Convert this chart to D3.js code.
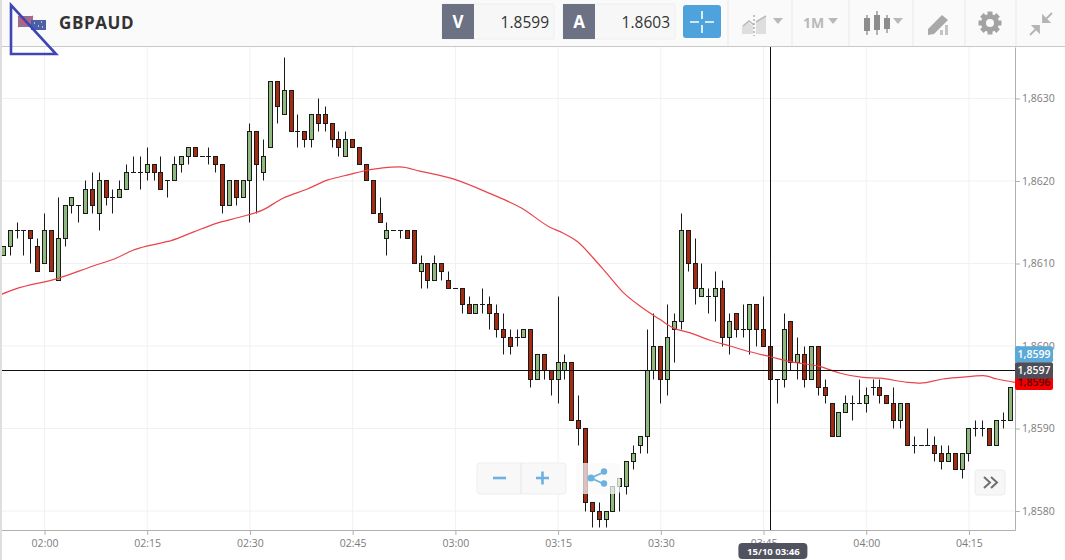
<!DOCTYPE html>
<html>
<head>
<meta charset="utf-8">
<script src="https://cdn.jsdelivr.net/npm/d3@7"></script>
<style>
  html, body { margin: 0; padding: 0; background: #fff; }
  svg { display: block; font-family: "Open Sans", sans-serif; }
</style>
</head>
<body>
<svg id="chart" width="1065" height="560"></svg>
<script>
// one candle a minute, first one at 01:54
var first_minute = 114;
var opens = [1.8611,1.8612,1.8614,1.8614,1.8614,1.8612,1.8610,1.8614,1.8608,1.8613,1.8617,1.8617,1.8616,1.8619,1.8616,1.8620,1.8618,1.8618,1.8619,1.8621,1.8621,1.8621,1.8622,1.8621,1.8620,1.8620,1.8622,1.8623,1.8624,1.8623,1.8623,1.8623,1.8622,1.8617,1.8620,1.8618,1.8620,1.8626,1.8621,1.8624,1.8632,1.8628,1.8631,1.8626,1.8626,1.8625,1.8628,1.8628,1.8627,1.8625,1.8623,1.8625,1.8624,1.8622,1.8620,1.8616,1.8613,1.8614,1.8614,1.8614,1.8614,1.8609,1.8610,1.8608,1.8610,1.8608,1.8607,1.8607,1.8605,1.8604,1.8605,1.8605,1.8604,1.8602,1.8601,1.8601,1.8601,1.8602,1.8596,1.8599,1.8597,1.8596,1.8597,1.8598,1.8591,1.8590,1.8581,1.8580,1.8579,1.8580,1.8583,1.8583,1.8586,1.8588,1.8589,1.8597,1.8600,1.8596,1.8602,1.8603,1.8614,1.8610,1.8606,1.8606,1.8606,1.8607,1.8601,1.8604,1.8602,1.8602,1.8605,1.8602,1.8600,1.8596,1.8596,1.8603,1.8598,1.8599,1.8596,1.8600,1.8595,1.8593,1.8589,1.8592,1.8593,1.8593,1.8593,1.8595,1.8595,1.8594,1.8593,1.8591,1.8593,1.8588,1.8588,1.8588,1.8588,1.8587,1.8586,1.8587,1.8585,1.8587,1.8590,1.8590,1.8590,1.8588,1.8591,1.8591];
var highs = [1.8612,1.8614,1.8615,1.8614,1.8614,1.8613,1.8616,1.8614,1.8618,1.8617,1.8618,1.8617,1.8620,1.8621,1.8621,1.8620,1.8619,1.8620,1.8622,1.8623,1.8623,1.8624,1.8622,1.8623,1.8620,1.8623,1.8623,1.8624,1.8624,1.8623,1.8624,1.8623,1.8622,1.8620,1.8620,1.8620,1.8627,1.8626,1.8625,1.8632,1.8632,1.8635,1.8631,1.8628,1.8626,1.8628,1.8630,1.8629,1.8627,1.8626,1.8626,1.8625,1.8624,1.8622,1.8620,1.8618,1.8615,1.8614,1.8614,1.8614,1.8614,1.8611,1.8610,1.8611,1.8610,1.8609,1.8607,1.8607,1.8606,1.8605,1.8607,1.8606,1.8605,1.8604,1.8602,1.8602,1.8602,1.8602,1.8599,1.8599,1.8597,1.8606,1.8599,1.8598,1.8594,1.8590,1.8581,1.8581,1.8580,1.8583,1.8584,1.8586,1.8588,1.8589,1.8602,1.8604,1.8600,1.8605,1.8604,1.8616,1.8614,1.8613,1.8610,1.8607,1.8609,1.8608,1.8604,1.8604,1.8605,1.8605,1.8605,1.8606,1.8600,1.8596,1.8604,1.8603,1.8601,1.8600,1.8600,1.8600,1.8596,1.8593,1.8592,1.8594,1.8594,1.8596,1.8595,1.8596,1.8596,1.8594,1.8595,1.8593,1.8593,1.8589,1.8588,1.8590,1.8589,1.8588,1.8588,1.8587,1.8587,1.8590,1.8591,1.8591,1.8590,1.8591,1.8592,1.8595];
var lows = [1.8611,1.8611,1.8613,1.8611,1.8610,1.8609,1.8610,1.8609,1.8608,1.8612,1.8616,1.8615,1.8616,1.8616,1.8614,1.8617,1.8616,1.8618,1.8619,1.8621,1.8619,1.8620,1.8620,1.8619,1.8618,1.8620,1.8621,1.8622,1.8623,1.8623,1.8622,1.8621,1.8616,1.8617,1.8617,1.8618,1.8615,1.8616,1.8620,1.8624,1.8627,1.8628,1.8626,1.8624,1.8624,1.8624,1.8626,1.8626,1.8624,1.8623,1.8623,1.8624,1.8622,1.8620,1.8616,1.8615,1.8611,1.8614,1.8613,1.8613,1.8610,1.8607,1.8607,1.8608,1.8608,1.8607,1.8607,1.8604,1.8604,1.8604,1.8604,1.8602,1.8601,1.8599,1.8599,1.8600,1.8601,1.8595,1.8596,1.8596,1.8594,1.8593,1.8596,1.8591,1.8588,1.8580,1.8578,1.8578,1.8578,1.8580,1.8580,1.8582,1.8585,1.8587,1.8587,1.8596,1.8593,1.8594,1.8598,1.8602,1.8609,1.8605,1.8606,1.8604,1.8603,1.8600,1.8599,1.8601,1.8601,1.8599,1.8600,1.8600,1.8596,1.8593,1.8595,1.8597,1.8596,1.8595,1.8596,1.8594,1.8593,1.8589,1.8589,1.8592,1.8591,1.8593,1.8592,1.8594,1.8593,1.8593,1.8590,1.8590,1.8588,1.8587,1.8588,1.8588,1.8586,1.8585,1.8586,1.8585,1.8584,1.8586,1.8589,1.8589,1.8588,1.8588,1.8590,1.8591];
var closes = [1.8612,1.8614,1.8614,1.8614,1.8613,1.8609,1.8614,1.8609,1.8613,1.8617,1.8618,1.8617,1.8619,1.8617,1.8620,1.8618,1.8618,1.8619,1.8621,1.8621,1.8621,1.8622,1.8621,1.8619,1.8620,1.8622,1.8623,1.8624,1.8623,1.8623,1.8623,1.8622,1.8617,1.8620,1.8618,1.8620,1.8626,1.8622,1.8623,1.8632,1.8629,1.8631,1.8626,1.8626,1.8625,1.8628,1.8627,1.8627,1.8625,1.8624,1.8625,1.8624,1.8622,1.8620,1.8616,1.8615,1.8614,1.8614,1.8614,1.8613,1.8610,1.8610,1.8608,1.8610,1.8609,1.8607,1.8607,1.8605,1.8604,1.8605,1.8605,1.8604,1.8602,1.8601,1.8600,1.8601,1.8602,1.8596,1.8599,1.8597,1.8596,1.8598,1.8598,1.8591,1.8590,1.8581,1.8580,1.8579,1.8580,1.8583,1.8584,1.8586,1.8587,1.8589,1.8597,1.8600,1.8596,1.8601,1.8603,1.8614,1.8610,1.8607,1.8607,1.8606,1.8607,1.8601,1.8603,1.8602,1.8602,1.8605,1.8602,1.8600,1.8596,1.8596,1.8602,1.8598,1.8599,1.8596,1.8600,1.8595,1.8594,1.8589,1.8592,1.8593,1.8593,1.8593,1.8594,1.8595,1.8594,1.8593,1.8591,1.8593,1.8588,1.8588,1.8588,1.8588,1.8587,1.8586,1.8587,1.8585,1.8587,1.8590,1.8590,1.8590,1.8588,1.8591,1.8591,1.8595];

// moving average, read at irregular spots along the red line
var ma_minutes = [113.5,115.7,122,127.1,130.6,132.9,135.4,138.6,141.7,145.2,148.5,151.9,154.8,158.3,161.3,164.6,167.1,169.4,171.9,174.8,179.9,185,189.7,193.8,195.7,197.9,200.1,202.1,204.5,207.2,209.9,211.8,214.3,217.2,220.1,223,226,228.9,233.3,236.2,239.5,242,246,247.9,251.2,253.7,257.1,259.1,261.7];
var ma_values = [1.86062,1.86069,1.86082,1.86097,1.86107,1.86116,1.86122,1.86128,1.86138,1.86149,1.86156,1.86165,1.86179,1.8619,1.86201,1.86208,1.86213,1.86216,1.86217,1.86212,1.86202,1.86185,1.86167,1.86144,1.86137,1.86126,1.86107,1.86088,1.86065,1.86047,1.86032,1.86022,1.86016,1.86007,1.86,1.85993,1.85987,1.85981,1.85975,1.85967,1.85962,1.85961,1.85956,1.85955,1.8596,1.85962,1.85964,1.8596,1.85956];

var time_ticks = [120,135,150,165,180,195,210,225,240,255];
var price_ticks = [1.858,1.859,1.860,1.861,1.862,1.863];

var bid = 1.8599, ask = 1.8603, last_close = 1.8596;
var cursor_price = 1.8597, cursor_minute = 226, cursor_label = '15/10 03:46';

var plot_right = 1015, plot_top = 47, plot_bottom = 530;
var green = '#8fb97e', red = '#a32b12', ink = '#1a1a1a', grid = '#f1f1f1', axis_col = '#b0b0b0', label_col = '#7c7c7c';

var svg = d3.select('#chart');

var x = d3.scaleLinear().domain([113.5, 261.72]).range([0, plot_right]);
var y = d3.scaleLinear().domain([1.85777, 1.863624]).range([plot_bottom, plot_top]);

// the reference snaps candles to whole pixels
function px(v) { return Math.floor(v) + 0.5; }

function fmt_price(v) { return d3.format('.4f')(v).replace('.', ','); }
function fmt_time(m) { return d3.format('02d')(Math.floor(m / 60)) + ':' + d3.format('02d')(m % 60); }

// grid
svg.append('g').selectAll('line').data(time_ticks).enter().append('line')
  .attr('x1', function(d) {return x(d);}).attr('x2', function(d) {return x(d);})
  .attr('y1', plot_top).attr('y2', plot_bottom)
  .attr('stroke', grid);
svg.append('g').selectAll('line').data(price_ticks).enter().append('line')
  .attr('x1', 0).attr('x2', plot_right)
  .attr('y1', function(d) {return y(d);}).attr('y2', function(d) {return y(d);})
  .attr('stroke', grid);

// axes
var x_axis = d3.axisBottom(x).tickValues(time_ticks).tickFormat(fmt_time).tickSize(5).tickPadding(5).tickSizeOuter(0);
var y_axis = d3.axisRight(y).tickValues(price_ticks).tickFormat(fmt_price).tickSize(5).tickPadding(2).tickSizeOuter(0);

var gx = svg.append('g').attr('transform', 'translate(0,' + plot_bottom + ')').call(x_axis);
var gy = svg.append('g').attr('transform', 'translate(' + plot_right + ',0)').call(y_axis);
[gx, gy].forEach(function(g) {
  g.selectAll('path').attr('stroke', axis_col);
  g.selectAll('line').attr('stroke', axis_col);
  g.selectAll('text').attr('fill', label_col)
    .style('font-family', '"Open Sans", sans-serif').style('font-size', '10.5px');
});

// candles
var candles = d3.range(opens.length);
var cg = svg.append('g');

cg.selectAll('line.wick').data(candles).enter().append('line')
  .attr('class', 'wick')
  .attr('x1', function(i) {return px(x(first_minute + i));})
  .attr('x2', function(i) {return px(x(first_minute + i));})
  .attr('y1', function(i) {return px(y(highs[i]));})
  .attr('y2', function(i) {return px(y(lows[i]));})
  .attr('stroke', ink).attr('stroke-width', 1);

var dojis = candles.filter(function(i) {return opens[i] === closes[i];});
cg.selectAll('line.doji').data(dojis).enter().append('line')
  .attr('class', 'doji')
  .attr('x1', function(i) {return px(x(first_minute + i)) - 2.5;})
  .attr('x2', function(i) {return px(x(first_minute + i)) + 2.5;})
  .attr('y1', function(i) {return px(y(opens[i]));})
  .attr('y2', function(i) {return px(y(opens[i]));})
  .attr('stroke', ink).attr('stroke-width', 1);

var bodies = candles.filter(function(i) {return opens[i] !== closes[i];});
cg.selectAll('rect').data(bodies).enter().append('rect')
  .attr('x', function(i) {return px(x(first_minute + i)) - 2;})
  .attr('width', 4)
  .attr('y', function(i) {return px(y(Math.max(opens[i], closes[i])));})
  .attr('height', function(i) {return px(y(Math.min(opens[i], closes[i]))) - px(y(Math.max(opens[i], closes[i])));})
  .attr('fill', function(i) {return closes[i] > opens[i] ? green : red;})
  .attr('stroke', ink).attr('stroke-width', 1);

// moving average
var ma_line = d3.line()
  .x(function(d, i) {return x(ma_minutes[i]);})
  .y(function(d) {return y(d);})
  .curve(d3.curveMonotoneX);
svg.append('path').attr('d', ma_line(ma_values))
  .attr('fill', 'none').attr('stroke', '#e9444a').attr('stroke-width', 1.2);

// crosshair
svg.append('line').attr('x1', 0).attr('x2', plot_right)
  .attr('y1', px(y(cursor_price))).attr('y2', px(y(cursor_price)))
  .attr('stroke', '#111').attr('stroke-width', 1);
svg.append('line').attr('x1', px(x(cursor_minute))).attr('x2', px(x(cursor_minute)))
  .attr('y1', plot_top).attr('y2', plot_bottom)
  .attr('stroke', '#111').attr('stroke-width', 1);

// price flags on the right axis
function price_flag(py, h, fill, txt, col) {
  svg.append('rect').attr('x', plot_right).attr('y', py).attr('width', 38).attr('height', h)
    .attr('rx', 2).attr('fill', fill);
  svg.append('text').attr('x', plot_right + 19).attr('y', py + h / 2 + 3.6)
    .attr('text-anchor', 'middle').attr('fill', col)
    .style('font-size', '10.5px').style('font-weight', 600).text(txt);
}
price_flag(y(last_close) - 4, 15, '#f40000', fmt_price(last_close), '#5a0000');
price_flag(y(bid) - 8, 16, '#5aa9d8', fmt_price(bid), '#fff');
price_flag(y(cursor_price) - 8.5, 16.5, '#4e4e58', fmt_price(cursor_price), '#fff');

// time flag
svg.append('rect').attr('x', x(cursor_minute) - 32).attr('y', 543).attr('width', 69).attr('height', 16)
  .attr('rx', 4).attr('fill', '#50535f');
svg.append('text').attr('x', x(cursor_minute) + 3).attr('y', 554.5)
  .attr('text-anchor', 'middle').attr('fill', '#fff')
  .style('font-size', '9.5px').style('font-weight', 700).text(cursor_label);

// zoom + share buttons over the chart
var ov = svg.append('g');
ov.append('rect').attr('x', 477).attr('y', 463).attr('width', 89).attr('height', 31).attr('rx', 3)
  .attr('fill', '#f8f8f8').attr('stroke', '#efefef');
ov.append('line').attr('x1', 521).attr('x2', 521).attr('y1', 463).attr('y2', 494).attr('stroke', '#e6e6e6');
ov.append('path').attr('d', 'M493,478h13').attr('stroke', '#6cb1df').attr('stroke-width', 2.6);
ov.append('path').attr('d', 'M536,478h13M542.500,471.500v13').attr('stroke', '#6cb1df').attr('stroke-width', 2.6);
ov.append('rect').attr('x', 576).attr('y', 463).attr('width', 44).attr('height', 31).attr('rx', 3)
  .attr('fill', '#fafafa').attr('fill-opacity', 0.72);
ov.append('path').attr('d', 'M604,472L591,478L604,484').attr('fill', 'none').attr('stroke', '#6cb1df').attr('stroke-width', 1.8);
[[604,471.500,3.200],[591,478,3.600],[604,483.500,3.200]].forEach(function(c) {
  ov.append('circle').attr('cx', c[0]).attr('cy', c[1]).attr('r', c[2]).attr('fill', '#6cb1df');
});
ov.append('rect').attr('x', 975).attr('y', 470).attr('width', 30).attr('height', 25).attr('rx', 3)
  .attr('fill', '#f7f7f7').attr('stroke', '#ececec');
ov.append('path').attr('d', 'M984,477L990,482.500L984,488M991,477L997,482.500L991,488')
  .attr('fill', 'none').attr('stroke', '#6f6f6f').attr('stroke-width', 2);

// header bar
var head = svg.append('g');
head.append('rect').attr('x', 0).attr('y', 0).attr('width', 1065).attr('height', 46).attr('fill', '#fafafa');
head.append('line').attr('x1', 0).attr('x2', 1065).attr('y1', 46.5).attr('y2', 46.5).attr('stroke', '#c9c9c9');
head.append('rect').attr('x', 0).attr('y', 0).attr('width', 2).attr('height', 560).attr('fill', '#dedede');

// flag pair, small and blurry in the reference
head.append('rect').attr('x', 18).attr('y', 16).attr('width', 15).attr('height', 11).attr('fill', '#7d7aa5');
head.append('path').attr('d', 'M18,16L33,27M33,16L18,27M25.500,16v11M18,21.500h15').attr('stroke', '#d8566c').attr('stroke-width', 1.5);
head.append('rect').attr('x', 31).attr('y', 20).attr('width', 15).attr('height', 10).attr('fill', '#4c5fa6');
head.append('path').attr('d', 'M34,23h1M41,22h1M38,26h1M42,27h1').attr('stroke', '#d5d8ea').attr('stroke-width', 1.4);
head.append('text').attr('x', 59).attr('y', 29)
  .attr('fill', '#333').style('font-size', '17px').style('font-weight', 700).style('letter-spacing', '0.6px')
  .text('GBPAUD');

function quote_box(bx, letter, value) {
  head.append('rect').attr('x', bx).attr('y', 4).attr('width', 112).attr('height', 35).attr('rx', 2)
    .attr('fill', '#f7f7f7').attr('stroke', '#eeeeee');
  head.append('rect').attr('x', bx).attr('y', 4).attr('width', 32).attr('height', 35).attr('fill', '#6c7184');
  head.append('text').attr('x', bx + 16).attr('y', 28).attr('text-anchor', 'middle')
    .attr('fill', '#fff').style('font-size', '17px').style('font-weight', 700).text(letter);
  head.append('text').attr('x', bx + 107).attr('y', 28).attr('text-anchor', 'end')
    .attr('fill', '#333').style('font-size', '15.5px').text(d3.format('.4f')(value));
}
quote_box(442, 'V', bid);
quote_box(563, 'A', ask);

head.append('rect').attr('x', 683).attr('y', 5).attr('width', 38).attr('height', 33).attr('rx', 3).attr('fill', '#4ea3dd');
head.append('path').attr('d', 'M690,22h9M705,22h9M702,11v8M702,25v8').attr('stroke', '#fff').attr('stroke-width', 1.6);

[728, 792, 849, 913, 965, 1016].forEach(function(sx) {
  head.append('line').attr('x1', sx).attr('x2', sx).attr('y1', 0).attr('y2', 46).attr('stroke', '#e8e8e8');
});

var icon_col = '#b9b9b9';
// chart type
head.append('path').attr('d', 'M742,34V26L748,22L753,26L753,34ZM756,34V22L766,17V34Z').attr('fill', '#dedede');
head.append('path').attr('d', 'M743,26L749,21L754,25M756,22L766,16').attr('fill', 'none').attr('stroke', icon_col).attr('stroke-width', 1.5);
head.append('path').attr('d', 'M754,15v21').attr('stroke', '#8c8c8c').attr('stroke-dasharray', '2,2');
head.append('path').attr('d', 'M773,18h10l-5,6Z').attr('fill', icon_col);
// period
head.append('text').attr('x', 803).attr('y', 28).attr('fill', icon_col).style('font-size', '14px').style('font-weight', 700).text('1M');
head.append('path').attr('d', 'M828,18h10l-5,6Z').attr('fill', icon_col);
// candles icon
head.append('path').attr('d', 'M867,15v20M877,11v24M887,15v18').attr('stroke', '#9a9a9a').attr('stroke-width', 1.5);
head.append('rect').attr('x', 864).attr('y', 18).attr('width', 6).attr('height', 13).attr('fill', '#8d8d8d');
head.append('rect').attr('x', 874).attr('y', 15).attr('width', 6).attr('height', 15).attr('fill', '#8d8d8d');
head.append('rect').attr('x', 884).attr('y', 18).attr('width', 6).attr('height', 11).attr('fill', '#8d8d8d');
head.append('path').attr('d', 'M893,18h10l-5,6Z').attr('fill', icon_col);
// pencil + bars
head.append('path').attr('d', 'M928,29L942,15L948,20L934,34L928,35Z').attr('fill', '#a9a9a9');
head.append('path').attr('d', 'M940,35V30h3v5ZM945,35V25h3v10Z').attr('fill', '#c4c4c4');
// settings
var gear = head.append('g').attr('transform', 'translate(990,23)');
d3.range(8).forEach(function(k) {
  gear.append('rect').attr('x', -2.5).attr('y', -11.5).attr('width', 5).attr('height', 5)
    .attr('fill', '#a3a3a3').attr('transform', 'rotate(' + k * 45 + ')');
});
gear.append('circle').attr('r', 6.5).attr('fill', 'none').attr('stroke', '#a3a3a3').attr('stroke-width', 5);
// collapse arrows
head.append('path').attr('d', 'M1030,35L1037,28M1033,26h6v6Z M1052,13L1044,21M1049,22h-6v-6Z')
  .attr('fill', '#b4b4b4').attr('stroke', '#b4b4b4').attr('stroke-width', 1.8);

// blue triangle scribbled on top of the screenshot
svg.append('path').attr('d', 'M11,5V54H56Z')
  .attr('fill', 'none').attr('stroke', '#3e46b5').attr('stroke-width', 2.6);
</script>
</body>
</html>
